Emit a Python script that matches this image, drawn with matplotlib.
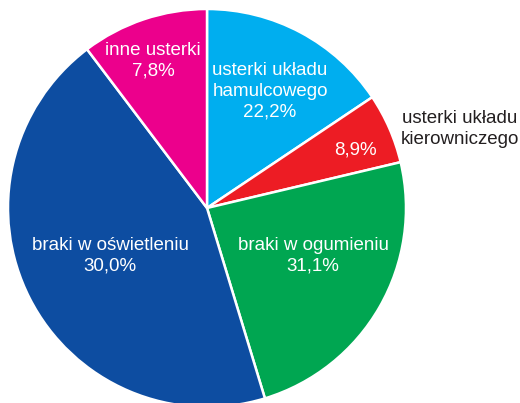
import matplotlib.pyplot as plt

# slice sizes as drawn in the picture (shares of the circle)
categories = ["usterki układu\nhamulcowego", "usterki układu\nkierowniczego",
              "braki w ogumieniu", "braki w oświetleniu", "inne usterki"]
slice_sizes = [15.6, 5.7, 24.0, 44.4, 10.3]
pct_labels = ["22,2%", "8,9%", "31,1%", "30,0%", "7,8%"]
colors = ["#00AEEF", "#ED1C24", "#00A651", "#0D4DA1", "#EC008C"]

plt.rcParams['font.family'] = ['Liberation Sans', 'DejaVu Sans']

fig = plt.figure(figsize=(5.2, 4.03), dpi=100)
ax = fig.add_axes([0, 0, 1, 1])

R = 199.0
cx, cy = 207.0, 208.0


def px(x, y):
    return (x - cx) / R, (cy - y) / R


ax.pie(slice_sizes, colors=colors, startangle=90, counterclock=False,
       radius=1.0, center=(0, 0),
       wedgeprops=dict(edgecolor="white", linewidth=1.8))

ax.set_xlim((0 - cx) / R, (520 - cx) / R)
ax.set_ylim((cy - 403) / R, cy / R)
ax.set_aspect('auto')
ax.axis('off')

fs = 13.5
ls = 1.3
# label positions in pixel space (centre of text block)
inside = {
    0: (270, 91, categories[0] + "\n" + pct_labels[0]),
    1: (355, 150, pct_labels[1]),
    2: (313, 256, categories[2] + "\n" + pct_labels[2]),
    3: (110, 256, categories[3] + "\n" + pct_labels[3]),
    4: (153, 61, categories[4] + "\n" + pct_labels[4]),
}
for i, (x, y, txt) in inside.items():
    xd, yd = px(x, y)
    ax.text(xd, yd, txt, color="white", fontsize=fs, ha="center", va="center",
            linespacing=ls)

xd, yd = px(460, 129)
ax.text(xd, yd, categories[1], color="#231F20", fontsize=fs, ha="center",
        va="center", linespacing=ls)

fig.savefig("out.png", dpi=100)
